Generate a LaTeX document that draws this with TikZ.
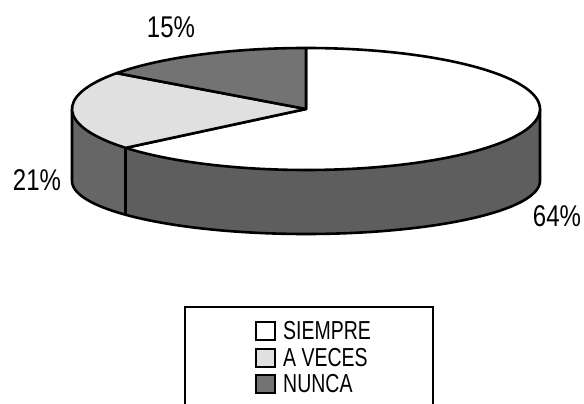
\documentclass[tikz,border=0pt]{standalone}
\usepackage{fontspec}
\setmainfont{Liberation Sans}
\usetikzlibrary{calc}
\newcommand\narrowtxt[2][0.78]{\scalebox{#1}[1]{#2}}
\begin{document}
\begin{tikzpicture}[x=1pt,y=1pt,
  edge/.style={line width=2.6pt,line join=round,draw=black},
  wallA/.style={fill=black!60},
  wallS/.style={fill=black!63},
  topS/.style={fill=white},
  topA/.style={fill=black!12},
  topN/.style={fill=black!55},
  pct/.style={inner sep=0pt,font=\fontsize{30}{30}\selectfont},
  legtxt/.style={inner sep=0pt,anchor=west,font=\fontsize{26}{26}\selectfont},
  legsq/.style={draw=black,line width=2pt,minimum width=19pt,minimum height=18pt,inner sep=0pt}]
\useasboundingbox (0,0) rectangle (584,404);
\fill[white] (0,0) rectangle (584,404);
\coordinate (c) at (306,295);
\coordinate (cb) at (306,223);
% side walls (top ellipse rx 234 ry 61; bottom ellipse rx 234 ry 53)
\fill[wallA] ($(c)+(180:234pt and 61pt)$) arc[start angle=180,end angle=219.6,x radius=234pt,y radius=61pt]
  -- ($(cb)+(219.6:234pt and 53pt)$) arc[start angle=219.6,end angle=180,x radius=234pt,y radius=53pt] -- cycle;
\fill[wallS] ($(c)+(219.6:234pt and 61pt)$) arc[start angle=219.6,end angle=360,x radius=234pt,y radius=61pt]
  -- ($(cb)+(360:234pt and 53pt)$) arc[start angle=360,end angle=219.6,x radius=234pt,y radius=53pt] -- cycle;
\draw[edge] ($(c)+(180:234pt and 61pt)$) -- ($(cb)+(180:234pt and 53pt)$)
  arc[start angle=180,end angle=360,x radius=234pt,y radius=53pt] -- ($(c)+(360:234pt and 61pt)$);
\draw[edge] ($(c)+(219.6:234pt and 61pt)$) -- ($(cb)+(219.6:234pt and 53pt)$);
% top slices
\filldraw[edge,topS] (c) -- ++(90:234pt and 61pt)
  arc[start angle=90,end angle=-140.4,x radius=234pt,y radius=61pt] -- cycle;
\filldraw[edge,topA] (c) -- ++(144:234pt and 61pt)
  arc[start angle=144,end angle=219.6,x radius=234pt,y radius=61pt] -- cycle;
\filldraw[edge,topN] (c) -- ++(90:234pt and 61pt)
  arc[start angle=90,end angle=144,x radius=234pt,y radius=61pt] -- cycle;
% labels
\node[pct] (p15) at (171,377) {\narrowtxt[0.8]{15\%}};
\node[pct] (p21) at (37,224) {\narrowtxt[0.8]{21\%}};
\node[pct] (p64) at (557,188) {\narrowtxt[0.8]{64\%}};
% legend
\draw[line width=2pt] (185,-2) -- (185,97) -- (433,97) -- (433,-2);
\node[legsq,fill=white] (s1) at (265,73) {};
\node[legsq,fill=black!12] (s2) at (265,46) {};
\node[legsq,fill=black!55] (s3) at (265,20) {};
\node[legtxt] (t1) at (283,73) {\narrowtxt[0.75]{SIEMPRE}};
\node[legtxt] (t2) at (283,46) {\narrowtxt[0.75]{A VECES}};
\node[legtxt] (t3) at (283,20) {\narrowtxt[0.75]{NUNCA}};
\end{tikzpicture}
\end{document}
